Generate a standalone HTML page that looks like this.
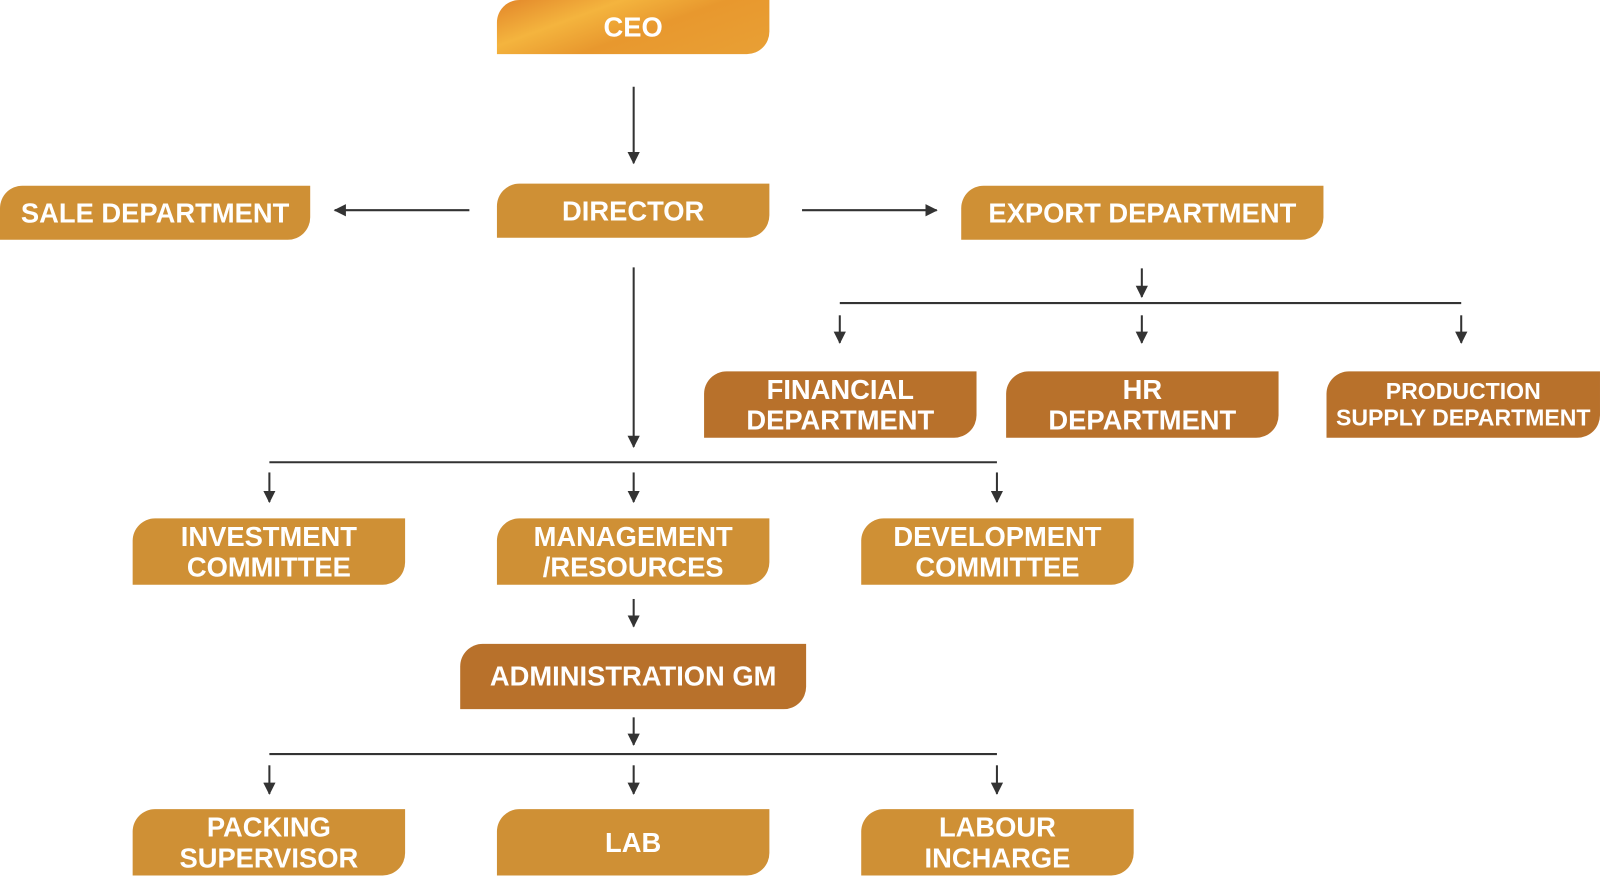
<!DOCTYPE html>
<html><head><style>
body{margin:0;width:1600px;height:876px;background:#fff;position:relative;overflow:hidden;font-family:"Liberation Sans",Arial,sans-serif}
#w{position:absolute;left:0;top:0;width:1568px;height:858px;transform:scale(1.0204);transform-origin:0 0}
.b{position:absolute;background:#CF9035;color:#fff;font-weight:bold;display:flex;align-items:center;justify-content:center;text-align:center;border-radius:22px 0 22px 0;font-size:26.8px;line-height:30px;white-space:nowrap}
.d{background:#B8712B}
</style></head><body><div id="w">
<div class="b" style="left:487px;top:0;width:267px;height:53px;background:linear-gradient(160deg,#E2862A 0%,#F4B43E 30%,#E8982E 55%,#E8A035 100%)">CEO</div>
<div class="b" style="left:487px;top:180px;width:267px;height:53px">DIRECTOR</div>
<div class="b" style="left:0;top:182px;width:304px;height:53px">SALE DEPARTMENT</div>
<div class="b" style="left:942px;top:182px;width:355px;height:53px">EXPORT DEPARTMENT</div>
<div class="b d" style="left:690px;top:364px;width:267px;height:65px">FINANCIAL<br>DEPARTMENT</div>
<div class="b d" style="left:986px;top:364px;width:267px;height:65px">HR<br>DEPARTMENT</div>
<div class="b d" style="left:1300px;top:364px;width:268px;height:65px;font-size:22.6px;line-height:26px">PRODUCTION<br>SUPPLY DEPARTMENT</div>
<div class="b" style="left:130px;top:508px;width:267px;height:65px">INVESTMENT<br>COMMITTEE</div>
<div class="b" style="left:487px;top:508px;width:267px;height:65px">MANAGEMENT<br>/RESOURCES</div>
<div class="b" style="left:844px;top:508px;width:267px;height:65px">DEVELOPMENT<br>COMMITTEE</div>
<div class="b d" style="left:451px;top:631px;width:339px;height:64px">ADMINISTRATION GM</div>
<div class="b" style="left:130px;top:793px;width:267px;height:65px">PACKING<br>SUPERVISOR</div>
<div class="b" style="left:487px;top:793px;width:267px;height:65px">LAB</div>
<div class="b" style="left:844px;top:793px;width:267px;height:65px">LABOUR<br>INCHARGE</div>
<svg width="1568" height="858" style="position:absolute;left:0;top:0" stroke="#333" stroke-width="2" fill="#333">
<defs><marker id="a" markerWidth="12" markerHeight="12" refX="11" refY="6" orient="auto" markerUnits="userSpaceOnUse"><path d="M0,0L12,6L0,12z" stroke="none"/></marker></defs>
<g marker-end="url(#a)">
<line x1="621" y1="85" x2="621" y2="160"/>
<line x1="460" y1="206" x2="328" y2="206"/>
<line x1="786" y1="206" x2="918" y2="206"/>
<line x1="621" y1="262" x2="621" y2="438"/>
<line x1="264" y1="463" x2="264" y2="492"/>
<line x1="621" y1="463" x2="621" y2="492"/>
<line x1="977" y1="463" x2="977" y2="492"/>
<line x1="1119" y1="263" x2="1119" y2="291"/>
<line x1="823" y1="309" x2="823" y2="336"/>
<line x1="1119" y1="309" x2="1119" y2="336"/>
<line x1="1432" y1="309" x2="1432" y2="336"/>
<line x1="621" y1="587" x2="621" y2="614"/>
<line x1="621" y1="703" x2="621" y2="730"/>
<line x1="264" y1="750" x2="264" y2="778"/>
<line x1="621" y1="750" x2="621" y2="778"/>
<line x1="977" y1="750" x2="977" y2="778"/>
</g>
<line x1="264" y1="453" x2="977" y2="453"/>
<line x1="823" y1="297" x2="1432" y2="297"/>
<line x1="264" y1="739" x2="977" y2="739"/>
</svg>
</div></body></html>
